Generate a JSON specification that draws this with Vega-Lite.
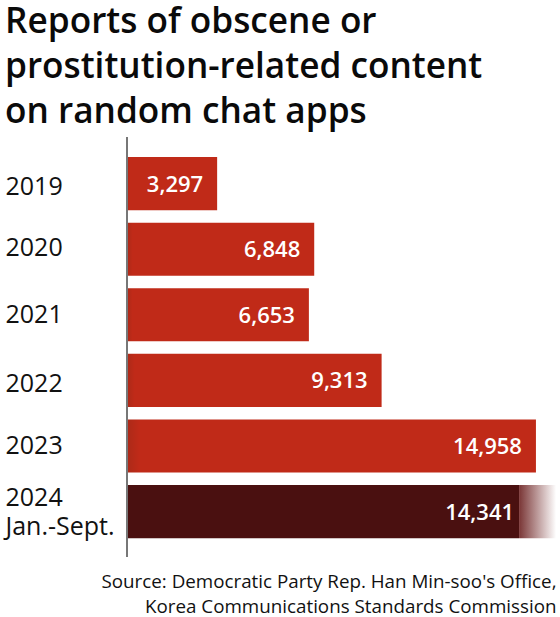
{
"$schema":"https://vega.github.io/schema/vega-lite/v6.json",
"width":433,"height":420,
"autosize":"none",
"padding":{"left":127,"top":137,"right":0,"bottom":60},
"background":"white",
"view":{"stroke":null},
"title":{"text":["Reports of obscene or","prostitution-related content","on random chat apps"],"anchor":"start","frame":"group","align":"left","baseline":"bottom","dx":-122,"offset":-29,"font":"Open Sans","fontSize":35.2,"fontWeight":600,"lineHeight":45,"color":"#0a0a0a"},
"data":{"values":[
{"year":"2019","reports":3297,"period":"full"},
{"year":"2020","reports":6848,"period":"full"},
{"year":"2021","reports":6653,"period":"full"},
{"year":"2022","reports":9313,"period":"full"},
{"year":"2023","reports":14958,"period":"full"},
{"year":"2024 Jan.-Sept.","reports":14341,"period":"partial","fadeEnd":15695}
]},
"encoding":{
"y":{"field":"year","type":"nominal","sort":null,
"scale":{"range":[13.8,407.4],"paddingInner":0.19,"paddingOuter":0.095},
"axis":{"title":null,"domain":false,"ticks":false,"labelAlign":"left","labelPadding":122,"labelFont":"Open Sans","labelFontSize":25,"labelColor":"#111111","labelLineHeight":29,
"labelOffset":{"condition":[{"test":"datum.value=='2019'","value":3},{"test":"datum.value=='2020'","value":-1},{"test":"datum.value=='2022'","value":4},{"test":"datum.value=='2024 Jan.-Sept.'","value":-14}],"value":0},
"labelExpr":"datum.label=='2024 Jan.-Sept.'?['2024','Jan.-Sept.']:datum.label"}},
"x":{"field":"reports","type":"quantitative",
"scale":{"domain":[0,15838],"nice":false,"zero":true},
"axis":{"domain":false,"ticks":false,"labels":false,"grid":false,"title":["Source: Democratic Party Rep. Han Min-soo's Office,","Korea Communications Standards Commission"],"titleAnchor":"end","titleAlign":"right","titleBaseline":"top","titleX":429,"titleY":15,"titleFont":"Open Sans","titleFontSize":18.8,"titleFontWeight":"normal","titleColor":"#111111","titleLineHeight":25}}
},
"layer":[
{"mark":{"type":"bar","fill":{"x1":0,"x2":1,"y1":0,"y2":0,"gradient":"linear","stops":[{"offset":0,"color":"#ab2a18"},{"offset":0.03,"color":"#c02a18"},{"offset":1,"color":"#c02a18"}]}},
 "transform":[{"filter":"datum.period=='full'"}]},
{"mark":{"type":"bar","color":"#4a1010"},
 "transform":[{"filter":"datum.period=='partial'"}]},
{"mark":{"type":"bar","fill":{"x1":0,"x2":1,"y1":0,"y2":0,"gradient":"linear","stops":[{"offset":0,"color":"#7a3636"},{"offset":1,"color":"#ffffff"}]}},
 "transform":[{"filter":"datum.period=='partial'"}],
 "encoding":{"x":{"field":"reports","type":"quantitative"},"x2":{"field":"fadeEnd"}}},
{"mark":{"type":"rule","color":"#777777","strokeWidth":1.5},"encoding":{"y":{"value":0},"y2":{"value":420},"x":{"datum":0,"type":"quantitative"}}},
{"mark":{"type":"text","align":"right","baseline":"middle","dx":-14,"dy":1,"color":"white","font":"Open Sans","fontSize":22,"fontWeight":600},
 "transform":[{"filter":"datum.period=='full'"}],
 "encoding":{"text":{"field":"reports","format":","}}},
{"mark":{"type":"text","align":"right","baseline":"middle","dx":-5,"dy":1,"color":"white","font":"Open Sans","fontSize":22,"fontWeight":600},
 "transform":[{"filter":"datum.period=='partial'"}],
 "encoding":{"text":{"field":"reports","format":","}}}
]
}
